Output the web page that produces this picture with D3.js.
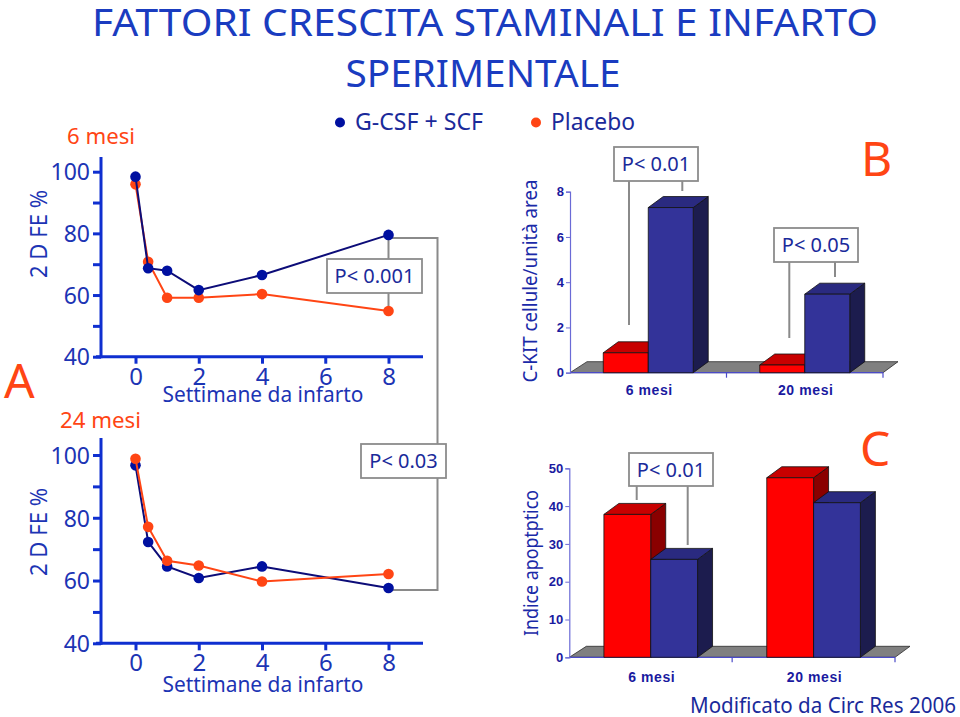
<!DOCTYPE html>
<html><head><meta charset="utf-8">
<script src="https://cdn.jsdelivr.net/npm/d3@7/dist/d3.min.js"></script>
<style>body{margin:0;background:#fff}svg{display:block}</style>
</head><body>
<svg id="c" width="960" height="717"></svg>
<script>
// ---------- DATA ----------
const weeks = [0, 0.4, 1, 2, 4, 8];
const fe6Gcsf = [98.4, 68.7, 67.9, 61.6, 66.5, 79.5];
const fe6Placebo = [95.9, 70.8, 59.1, 59.1, 60.3, 54.8];
const fe24Gcsf = [96.7, 72.3, 64.5, 60.8, 64.5, 57.6];
const fe24Placebo = [98.8, 77.1, 66.3, 64.8, 59.7, 62.1];
const feTicks = [40, 60, 80, 100];
const feMinorTicks = [50, 70, 90];
const weekTicks = [0, 2, 4, 6, 8];

const barCategories = ["6 mesi", "20 mesi"];
const barSeries = ["Placebo", "G-CSF + SCF"];
const ckitPlacebo = [0.88, 0.34];
const ckitGcsf = [7.3, 3.47];
const ckitTicks = [0, 2, 4, 6, 8];
const apoPlacebo = [37.8, 47.5];
const apoGcsf = [25.9, 40.9];
const apoTicks = [0, 10, 20, 30, 40, 50];

// ---------- STYLE ----------
const NAVY = "#1c34b4", AXIS = "#0f2fd0", ORANGE = "#ff4514", DARKBLUE = "#0c0c78", DOTBLUE = "#0010a0";
const F = "'Noto Sans', 'DejaVu Sans', sans-serif";
const FB = "'Liberation Sans', Arial, sans-serif";
const svg = d3.select("#c");

function txt(x, y, s, o = {}) {
  const t = svg.append("text").attr("x", x).attr("y", y).text(s)
    .attr("font-family", o.font || F).attr("font-size", o.size || 20)
    .attr("fill", o.fill || NAVY).attr("text-anchor", o.anchor || "start");
  if (o.weight) t.attr("font-weight", o.weight);
  if (o.len) t.attr("textLength", o.len).attr("lengthAdjust", "spacingAndGlyphs");
  if (o.rot) t.attr("transform", `rotate(-90 ${x} ${y})`);
  return t;
}

// Title
txt(485, 36, "FATTORI CRESCITA STAMINALI E INFARTO", {size: 38, anchor: "middle", len: 786, fill: "#1a3cc0"});
txt(483, 87, "SPERIMENTALE", {size: 38, anchor: "middle", len: 275, fill: "#1a3cc0"});

// Legend
svg.append("circle").attr("cx", 340).attr("cy", 122.5).attr("r", 5).attr("fill", DOTBLUE);
txt(355, 130, "G-CSF + SCF", {size: 23, len: 128, fill: "#1a2a9a"});
svg.append("circle").attr("cx", 536).attr("cy", 122.5).attr("r", 5).attr("fill", ORANGE);
txt(551, 130, "Placebo", {size: 23, len: 84, fill: "#1a2a9a"});

// Panel letters
txt(4, 398, "A", {size: 48, fill: ORANGE});
txt(861, 176, "B", {size: 48, fill: ORANGE});
txt(860, 466, "C", {size: 48, fill: ORANGE});

// ---------- LINE PANELS ----------
function linePanel(p) {
  const x = d3.scaleLinear().domain([0, 8]).range([135.5, 388.5]);
  const y = d3.scaleLinear().domain([40, 100]).range([p.y0, p.y100]);
  const g = svg.append("g");
  g.append("line").attr("x1", 101).attr("x2", 101).attr("y1", p.axisTop).attr("y2", y(40) + 1.5)
    .attr("stroke", AXIS).attr("stroke-width", 3);
  g.append("line").attr("x1", 96).attr("x2", 423).attr("y1", y(40)).attr("y2", y(40))
    .attr("stroke", AXIS).attr("stroke-width", 3);
  const ya = d3.axisLeft(y).tickValues(feTicks.concat(feMinorTicks)).tickSize(8).tickFormat(d => feTicks.includes(d) ? d : "");
  const yg = g.append("g").attr("transform", "translate(101,0)").call(ya);
  yg.select(".domain").remove();
  yg.selectAll("line").attr("stroke", AXIS).attr("stroke-width", 3);
  yg.selectAll("text").attr("font-family", F).attr("font-size", 23).attr("fill", NAVY).attr("x", -11).attr("dy", "0.36em");
  const xa = d3.axisBottom(x).tickValues(weekTicks).tickSize(7);
  const xg = g.append("g").attr("transform", `translate(0,${y(40)})`).call(xa);
  xg.select(".domain").remove();
  xg.selectAll("line").attr("stroke", AXIS).attr("stroke-width", 3);
  xg.selectAll("text").attr("font-family", F).attr("font-size", 24).attr("fill", NAVY).attr("y", 0).attr("dy", p.xLabDy);
  txt(263, p.xTitleY, "Settimane da infarto", {size: 22, anchor: "middle", len: 201});
  txt(47, p.yTitleC, "2 D FE %", {size: 24, anchor: "middle", rot: true, len: 88});
  txt(p.subX, p.subY, p.sub, {size: 22, fill: ORANGE, len: p.subLen});
  return {x, y, g};
}
function drawSeries(pn, vals, color, lineColor) {
  const pts = weeks.map((w, i) => [pn.x(w), pn.y(vals[i])]);
  pn.g.append("path").attr("d", d3.line()(pts)).attr("fill", "none").attr("stroke", lineColor).attr("stroke-width", 2);
  pn.g.selectAll(null).data(pts).join("circle").attr("cx", d => d[0]).attr("cy", d => d[1]).attr("r", 5.3).attr("fill", color);
}

const pTop = linePanel({y0: 356.7, y100: 171.7, axisTop: 157, xLabDy: 28, xTitleY: 402, yTitleC: 234,
  sub: "6 mesi", subX: 67, subY: 144, subLen: 68});
const pBot = linePanel({y0: 643.3, y100: 455, axisTop: 438, xLabDy: 28, xTitleY: 692, yTitleC: 532,
  sub: "24 mesi", subX: 60, subY: 428, subLen: 81});

const GRAY = "#8a8a8a";
const bx = pTop.x(8);
const yA = pTop.y(fe6Gcsf[5]) + 3, yB = pBot.y(fe24Gcsf[5]) + 2;
svg.insert("path", ":first-child")
  .attr("d", `M${bx},${yA}H437.5V${yB}H${bx}M${bx},${yA}V${pTop.y(fe6Placebo[5])}`)
  .attr("fill", "none").attr("stroke", GRAY).attr("stroke-width", 2);

drawSeries(pTop, fe6Placebo, ORANGE, ORANGE);
drawSeries(pTop, fe6Gcsf, DOTBLUE, DARKBLUE);
drawSeries(pBot, fe24Gcsf, DOTBLUE, DARKBLUE);
drawSeries(pBot, fe24Placebo, ORANGE, ORANGE);

function pbox(x0, y0, x1, y1, s) {
  svg.append("rect").attr("x", x0).attr("y", y0).attr("width", x1 - x0).attr("height", y1 - y0)
    .attr("fill", "#fff").attr("stroke", "#8c8c8c").attr("stroke-width", 1.8);
  txt((x0 + x1) / 2, (y0 + y1) / 2 + 7, s, {size: 20, anchor: "middle", fill: "#1a2a9a"});
}
pbox(327, 259, 422, 293, "P< 0.001");
pbox(361, 444, 446, 478, "P< 0.03");

// ---------- 3D BAR PANELS ----------
const DX = 15, DY = -11;
const COLORS = {
  Placebo: {front: "#ff0000", top: "#c80000", side: "#8a0000"},
  "G-CSF + SCF": {front: "#333399", top: "#2a2a80", side: "#1c1c4e"}
};
function barPanel(p) {
  const y = d3.scaleLinear().domain(p.domain).range([p.yBase, p.yTop]);
  const xb = d3.scaleBand().domain(barCategories).range([p.x0, p.x1]);
  const gw = xb.bandwidth() * 0.575;
  const xs = d3.scaleBand().domain(barSeries).range([0, gw]);
  const g = svg.append("g");
  g.append("path").attr("d", `M${p.x0},${p.yBase}L${p.x0 + DX + 2},${p.yBase + DY}H${p.x1 + DX}L${p.x1},${p.yBase}Z`)
    .attr("fill", "#808080").attr("stroke", "#2a2a2a").attr("stroke-width", 0.8);
  g.append("line").attr("x1", p.x0).attr("x2", p.x1).attr("y1", p.yBase).attr("y2", p.yBase).attr("stroke", "#4b4bc8").attr("stroke-width", 1.2);
  const ya = d3.axisLeft(y).tickValues(p.ticks).tickSize(4);
  const yg = g.append("g").attr("transform", `translate(${p.x0},0)`).call(ya);
  yg.select(".domain").attr("stroke", "#6a6ad6").attr("stroke-width", 1.2);
  yg.selectAll("line").attr("stroke", "#6a6ad6");
  yg.selectAll("text").attr("font-family", FB).attr("font-weight", "bold").attr("font-size", 13).attr("fill", "#1a1aa0").attr("x", -6);
  [xb(barCategories[1]), p.x1].forEach(tx => g.append("line").attr("x1", tx).attr("x2", tx)
    .attr("y1", p.yBase).attr("y2", p.yBase + 5).attr("stroke", "#4b4bc8").attr("stroke-width", 1.2));
  barCategories.forEach(c => txt(xb(c) + xb.bandwidth() / 2 + 1, p.catY, c,
    {font: FB, weight: "bold", size: 14, anchor: "middle", fill: "#1a1aa0"}).attr("letter-spacing", 0.6));
  const data = [];
  barCategories.forEach((c, i) => barSeries.forEach((s, j) => data.push({c, s, v: p.vals[j][i]})));
  data.forEach(d => {
    const x0 = xb(d.c) + (xb.bandwidth() - gw) / 2 + xs(d.s), x1 = x0 + xs.bandwidth();
    const yt = y(d.v), yb = p.yBase, col = COLORS[d.s];
    const bg = g.append("g").attr("stroke", "#111").attr("stroke-width", 0.8).attr("stroke-linejoin", "round");
    bg.append("path").attr("d", `M${x1},${yt}L${x1 + DX},${yt + DY}V${yb + DY}L${x1},${yb}Z`).attr("fill", col.side);
    bg.append("path").attr("d", `M${x0},${yt}L${x0 + DX},${yt + DY}H${x1 + DX}L${x1},${yt}Z`).attr("fill", col.top);
    bg.append("rect").attr("x", x0).attr("y", yt).attr("width", x1 - x0).attr("height", yb - yt).attr("fill", col.front);
  });
  txt(p.labX, p.labC, p.label, {size: 19, anchor: "middle", rot: true, len: p.labLen, fill: "#1a2aa8"});
}
barPanel({domain: [0, 8], yBase: 372.7, yTop: 191.7, x0: 570, x1: 883, ticks: ckitTicks,
  vals: [ckitPlacebo, ckitGcsf], catY: 395, label: "C-KIT cellule/unità area", labX: 537, labC: 281, labLen: 203});
barPanel({domain: [0, 50], yBase: 657.3, yTop: 468.3, x0: 569.3, x1: 895, ticks: apoTicks,
  vals: [apoPlacebo, apoGcsf], catY: 682, label: "Indice apoptptico", labX: 538, labC: 563, labLen: 146});

function vline(x, y1, y2) {
  svg.append("line").attr("x1", x).attr("x2", x).attr("y1", y1).attr("y2", y2).attr("stroke", GRAY).attr("stroke-width", 2);
}
vline(629, 181, 325); vline(682.3, 181, 191);
pbox(614, 147, 698, 181, "P< 0.01");
vline(789.3, 262, 338); vline(835, 262, 277);
pbox(774, 228, 858, 262, "P< 0.05");
vline(636.7, 486, 500); vline(687.7, 486, 545);
pbox(629, 453, 713, 486, "P< 0.01");

txt(956, 713, "Modificato da Circ Res 2006", {size: 21, anchor: "end", len: 266, fill: "#1a2a9a"});
</script>
</body></html>
